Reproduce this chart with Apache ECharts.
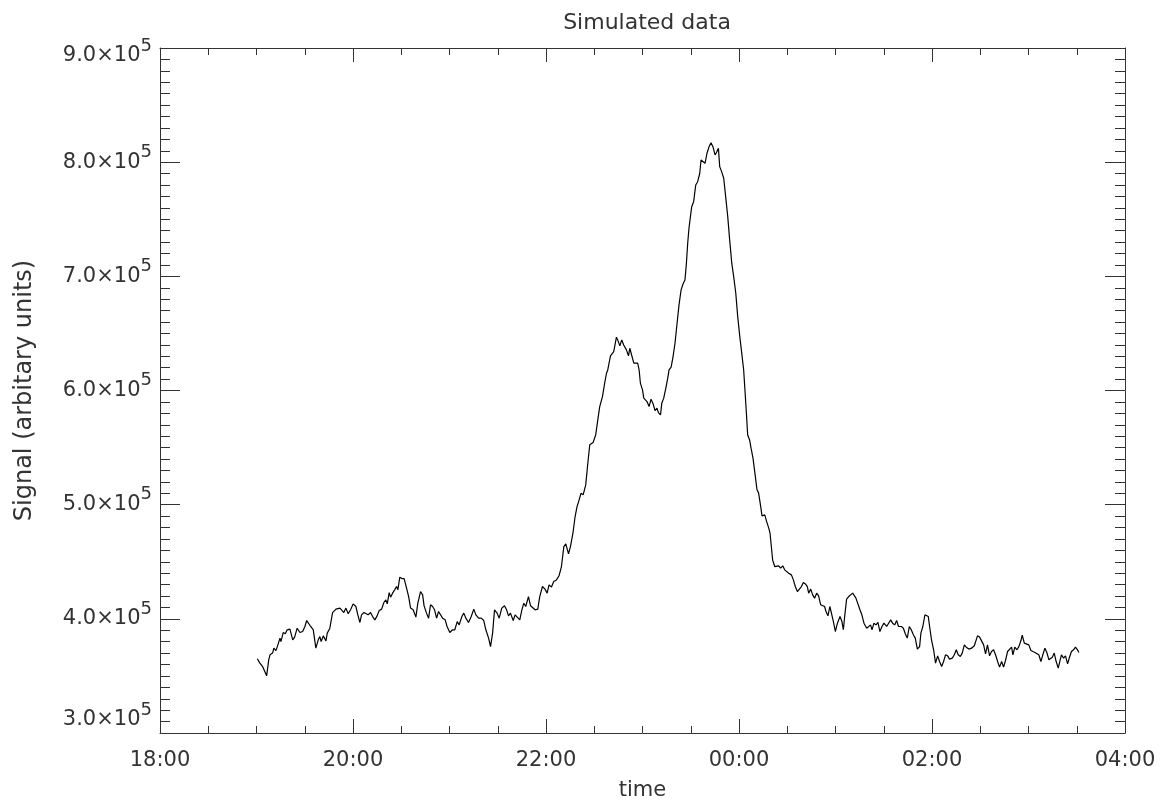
<!DOCTYPE html>
<html><head><meta charset="utf-8">
<script src="https://cdn.jsdelivr.net/npm/echarts@6/dist/echarts.min.js"></script>
<style>html,body{margin:0;padding:0;background:#fff}#c{width:1167px;height:806px}</style>
</head><body><div id="c"></div>
<script>
// time in minutes after 18:00
const minutesAfter1800 = [
60.5,62.1,63.8,64.6,66.3,67.6,68.4,70.0,70.8,72.1,
73.3,74.6,75.2,76.6,77.9,79.1,80.8,82.5,83.7,85.3,
87.0,88.7,90.1,91.2,92.4,93.7,95.3,96.9,98.4,99.4,
100.2,101.5,103.2,104.0,105.6,107.3,108.1,109.4,110.6,111.9,
112.9,114.3,115.6,117.0,118.5,120.1,121.8,123.0,124.3,125.3,
126.8,128.0,129.4,130.9,132.2,133.6,135.0,136.3,137.8,139.2,
140.4,141.3,142.5,143.4,144.6,145.9,147.1,147.9,149.1,150.4,
151.8,153.3,154.6,155.8,157.4,159.1,160.3,162.0,163.3,164.2,
165.7,167.0,168.2,169.5,170.7,172.0,173.2,174.4,175.7,177.3,178.5,180.2,181.9,183.3,184.8,186.0,187.7,188.9,190.2,191.8,193.5,195.1,196.4,198.1,199.7,201.3,202.6,204.3,205.5,206.8,208.0,209.6,210.9,212.5,214.2,215.5,216.7,217.9,219.6,220.8,222.0,223.7,225.0,226.2,227.4,229.1,230.4,231.6,233.2,234.9,236.1,237.8,239.4,240.7,241.9,
243.4,244.8,246.5,248.1,249.6,251.1,252.3,254.0,255.2,256.8,258.1,259.3,260.6,261.8,263.1,264.7,266.0,267.2,
269.3,270.9,272.2,273.4,275.1,276.4,277.6,278.4,279.2,280.1,
281.3,282.1,282.9,283.8,284.6,285.9,287.1,288.3,290.0,291.3,
292.1,293.3,294.6,295.8,297.0,297.9,298.7,300.0,300.8,302.0,
302.8,304.1,305.3,306.6,307.8,309.0,309.9,311.2,312.0,313.2,
314.5,315.7,316.5,317.8,319.0,320.2,321.5,322.7,324.0,325.2,
326.4,327.3,328.1,328.9,329.8,330.6,331.8,333.1,334.3,335.6,
336.4,337.6,338.9,340.1,341.4,342.6,343.8,345.1,345.9,347.2,
348.0,349.2,350.5,351.7,353.0,354.2,355.5,356.7,358.0,359.2,
360.5,361.7,362.9,363.7,364.6,365.4,366.6,367.5,368.7,369.9,
371.2,
372.2,373.5,374.3,376.0,377.2,378.5,379.3,380.1,380.9,382.2,
383.4,384.7,385.9,387.2,388.4,389.6,390.9,392.6,393.8,395.0,
396.3,397.5,398.8,400.0,401.3,402.5,403.3,404.6,405.8,407.0,
408.3,409.5,410.8,412.0,413.2,414.1,415.3,416.5,417.4,418.7,
419.9,421.2,422.8,424.0,424.9,425.7,426.9,428.2,429.4,430.7,
431.9,432.7,433.9,435.2,436.4,437.7,439.4,440.6,441.8,442.7,
443.9,445.2,446.4,447.6,448.9,450.1,451.8,453.0,454.3,455.5,
456.8,458.0,459.2,460.9,462.2,463.4,464.6,465.9,467.1,468.4,
469.6,470.9,472.3,
473.1,474.3,475.6,476.4,477.7,478.5,479.7,481.0,482.2,483.5,
484.7,486.0,487.2,488.4,489.7,490.9,492.6,493.9,495.1,496.3,
497.6,498.8,500.1,501.3,502.9,504.6,506.3,507.1,508.3,509.6,
510.8,512.1,513.3,514.5,515.8,517.0,518.3,519.5,520.8,522.0,
523.3,524.5,525.7,527.0,528.2,529.5,530.3,531.5,532.8,534.0,
535.3,536.1,537.4,538.6,540.2,541.5,542.7,544.0,545.2,546.4,
547.7,548.9,550.2,551.4,552.7,553.9,554.8,556.0,557.2,558.5,
559.7,560.5,561.8,563.0,564.3,565.5,566.7,568.0,569.2,570.5,
571.3
];
// signal in thousands of (arbitrary) units
const signalThousands = [
365.0,361.2,358.2,357.7,350.1,364.1,368.5,370.0,374.3,372.2,
377.2,383.1,380.1,388.0,386.9,390.4,391.0,381.6,384.0,391.8,
388.0,388.9,393.3,398.5,397.6,393.3,390.4,374.3,381.6,384.5,
380.1,385.1,380.7,387.5,391.8,405.5,404.4,408.5,410.2,409.4,
410.8,405.5,409.4,404.4,407.9,413.1,410.8,403.5,396.8,403.5,
405.5,407.0,403.5,405.5,402.0,399.1,402.6,407.3,408.5,414.3,
416.6,413.1,423.0,419.0,422.5,425.4,428.3,425.4,436.5,435.3,
435.3,426.9,419.5,409.4,407.9,401.5,413.7,423.9,421.0,411.4,
405.0,400.6,412.3,410.8,407.9,400.6,406.4,407.9,400.6,399.1,393.3,388.0,390.4,390.4,397.6,394.7,402.0,405.0,400.6,396.8,402.0,408.5,403.5,400.6,400.6,398.5,390.4,383.1,375.7,387.5,407.9,405.0,400.6,409.4,411.4,407.9,402.6,405.0,398.5,403.5,405.0,399.1,407.9,413.7,410.8,419.5,411.4,410.2,407.9,408.5,419.5,428.3,426.0,422.5,429.8,
427.8,432.7,434.1,437.7,445.8,463.3,465.7,456.9,463.3,475.6,489.6,498.3,504.2,510.1,508.6,517.3,536.3,552.4,
554.4,561.1,574.3,585.9,594.7,605.8,615.1,618.0,623.9,630.3,
629.7,634.1,635.6,646.7,644.3,639.1,644.3,639.9,635.6,630.3,
637.0,636.2,623.9,625.0,623.9,618.0,606.4,600.5,593.3,594.7,
590.3,585.9,592.4,588.3,582.4,584.5,580.6,578.6,588.9,593.3,
602.0,610.8,618.0,620.4,629.7,641.4,658.9,675.0,688.1,693.3,
696.8,711.5,729.0,742.1,752.3,761.0,765.4,780.0,782.9,790.3,
801.9,802.5,799.0,807.8,813.6,817.1,813.6,806.3,808.3,812.2,
796.1,791.7,785.9,769.8,752.3,731.9,711.5,699.7,685.2,664.7,
647.2,632.7,618.0,600.5,580.1,561.1,556.7,549.5,540.7,527.6,
513.0,
510.1,498.3,490.2,491.1,485.2,479.4,475.0,463.3,451.7,445.8,
444.4,446.4,444.4,446.4,442.9,441.4,440.0,438.5,434.1,428.3,
423.9,425.4,428.3,431.8,430.6,428.3,422.5,426.0,421.0,418.1,
422.5,420.1,412.3,411.4,410.8,406.4,402.6,410.8,411.4,397.6,
388.9,396.2,402.0,397.6,390.4,402.0,417.3,419.5,421.0,422.5,
423.0,418.1,416.6,407.9,403.5,396.2,391.8,391.0,394.7,390.4,
396.2,394.7,396.8,388.9,393.3,396.2,393.3,391.8,399.1,396.2,
394.7,398.5,393.3,393.3,391.8,386.9,383.1,393.3,390.4,386.0,
383.1,373.5,375.7,
387.5,393.3,403.5,402.0,402.0,393.3,381.6,372.9,361.2,367.6,
362.6,358.2,362.6,368.5,367.6,364.7,365.6,368.5,372.9,368.5,
367.0,370.0,377.2,375.2,373.5,374.3,376.4,377.2,385.1,384.0,
384.0,377.2,369.4,377.2,367.6,371.4,372.9,368.5,362.6,357.7,
362.6,357.7,363.5,371.4,371.4,375.2,368.5,375.2,372.9,375.7,
381.0,385.7,378.7,378.1,377.2,372.2,372.9,370.5,371.4,368.5,
362.6,368.5,374.3,370.5,364.1,363.5,366.4,370.0,362.6,356.8,
364.1,368.5,365.6,367.6,360.6,366.4,371.4,372.9,375.2,372.9,
370.5
];
const xTickLabels = ['18:00','20:00','22:00','00:00','02:00','04:00'];
const yTickMantissas = ['3.0','4.0','5.0','6.0','7.0','8.0','9.0'];
const yTickExponent = '5';

const FONT = 'DejaVu Sans';
const TXT = '#333';
const AXC = '#333';

const chart = echarts.init(document.getElementById('c'), null, {renderer: 'canvas'});

function xAxisDef(pos, showLabel) {
  return {
    type: 'value', position: pos, min: 0, max: 600, interval: 120,
    axisLine: {show: true, onZero: false, lineStyle: {color: AXC, width: 1}},
    axisTick: {show: true, inside: true, length: 14, lineStyle: {color: AXC, width: 1}},
    minorTick: {show: true, splitNumber: 4, length: 7, lineStyle: {color: AXC, width: 1}},
    splitLine: {show: false}, minorSplitLine: {show: false},
    axisLabel: {
      show: showLabel, margin: 17, fontFamily: FONT, fontSize: 21, color: TXT,
      formatter: v => xTickLabels[Math.round(v / 120)]
    },
    name: showLabel ? 'time' : '', nameLocation: 'middle', nameGap: 47,
    nameTextStyle: {fontFamily: FONT, fontSize: 21, color: TXT}
  };
}
function yAxisDef(pos, showLabel) {
  return {
    type: 'value', position: pos, min: 300, max: 900, interval: 100,
    axisLine: {show: true, onZero: false, lineStyle: {color: AXC, width: 1}},
    axisTick: {show: true, inside: true, length: 20, lineStyle: {color: AXC, width: 1}},
    minorTick: {show: true, splitNumber: 10, length: 10, lineStyle: {color: AXC, width: 1}},
    splitLine: {show: false}, minorSplitLine: {show: false},
    axisLabel: {
      show: showLabel, margin: 8, color: TXT,
      formatter: v => {
        const i = Math.round((v - 300) / 100);
        const main = '{m|' + yTickMantissas[i] + '×10}{e|' + yTickExponent + '}';
        if (i === 0) return main + '\n{gb| }';
        if (i === yTickMantissas.length - 1) return '{gt| }\n' + main;
        return main;
      },
      rich: {
        m: {fontFamily: FONT, fontSize: 21, color: TXT, lineHeight: 38},
        e: {fontFamily: FONT, fontSize: 18, color: TXT, lineHeight: 18, verticalAlign: 'top'},
        gb: {fontSize: 10, lineHeight: 26},
        gt: {fontSize: 10, lineHeight: 16}
      }
    },
    name: showLabel ? 'Signal (arbitary units)' : '', nameLocation: 'middle', nameGap: 123,
    nameRotate: 90,
    nameTextStyle: {fontFamily: FONT, fontSize: 24, color: TXT}
  };
}

chart.setOption({
  animation: false,
  backgroundColor: '#fff',
  title: {
    text: 'Simulated data', left: 642, top: 7, textAlign: 'center',
    textStyle: {fontFamily: FONT, fontSize: 22, fontWeight: 'normal', color: TXT}
  },
  grid: {left: 160, right: 42, top: 48, bottom: 73, containLabel: false},
  xAxis: [xAxisDef('bottom', true), xAxisDef('top', false)],
  yAxis: [yAxisDef('left', true), yAxisDef('right', false)],
  series: [{
    type: 'line', xAxisIndex: 0, yAxisIndex: 0,
    data: minutesAfter1800.map((t, i) => [t, signalThousands[i]]),
    showSymbol: false, symbol: 'none', smooth: false,
    lineStyle: {color: '#000', width: 1.2},
    silent: true
  }]
});
</script>
</body></html>
